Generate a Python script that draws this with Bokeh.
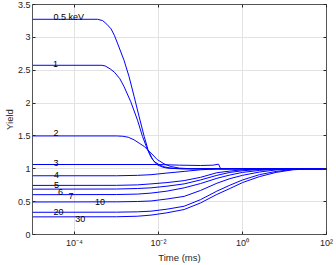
import numpy as np
from bokeh.plotting import figure
from bokeh.models import (LogAxis, LinearAxis, CustomJSTickFormatter, FixedTicker,
                          Range1d, ColumnDataSource)
from bokeh.embed import file_html
from bokeh.resources import INLINE
from bokeh.core.properties import value

# ---- data (log10 of time in ms, yield) ----
lt_05 = [-5, -3.45, -3.33, -3.23, -3.13, -3.05, -2.97, -2.82, -2.70, -2.58, -2.46, -2.34, -2.25, -2.14, -2.03, -1.9, -1.79, -1.5, 2]
y_05 = [3.275, 3.275, 3.255, 3.20, 3.13, 3.03, 2.90, 2.65, 2.40, 2.10, 1.79, 1.49, 1.29, 1.14, 1.06, 1.025, 1.01, 1.0, 1.0]

lt_1 = [-5, -3.35, -3.27, -3.15, -3.05, -2.92, -2.82, -2.66, -2.50, -2.38, -2.26, -2.18, -2.10, -1.98, -1.87, -1.7, -1.4, 2]
y_1 = [2.575, 2.575, 2.565, 2.52, 2.47, 2.37, 2.25, 2.02, 1.74, 1.49, 1.29, 1.18, 1.11, 1.06, 1.03, 1.01, 1.0, 1.0]

lt_2 = [-5, -3.0, -2.85, -2.72, -2.58, -2.46, -2.34, -2.18, -2.03, -1.87, -1.71, -1.5, -1.2, 2]
y_2 = [1.5, 1.5, 1.495, 1.48, 1.44, 1.39, 1.34, 1.24, 1.14, 1.076, 1.035, 1.01, 1.0, 1.0]

lt_3 = [-5, -2.0, -1.5, -1.0, -0.7, -0.57, -0.52, 2]
y_3 = [1.065, 1.065, 1.055, 1.05, 1.055, 1.07, 1.0, 1.0]

lt_4 = [-5, -3, -2.5, -2.18, -1.8, -1.39, -1.0, -0.6, 0, 2]
y_4 = [0.894, 0.894, 0.9, 0.91, 0.935, 0.96, 0.985, 0.997, 1.0, 1.0]

lt_5 = [-5, -3, -2.5, -2.18, -1.8, -1.39, -1.0, -0.61, -0.3, 0, 0.4, 1, 2]
y_5 = [0.747, 0.748, 0.755, 0.77, 0.79, 0.82, 0.87, 0.94, 0.965, 0.985, 0.997, 1.0, 1.0]

lt_6 = [-5, -3, -2.5, -2.18, -1.8, -1.39, -1.0, -0.61, -0.3, 0, 0.4, 0.9, 2]
y_6 = [0.69, 0.692, 0.70, 0.71, 0.735, 0.77, 0.83, 0.90, 0.945, 0.97, 0.99, 0.999, 1.0]

lt_7 = [-5, -3, -2.5, -2.18, -1.8, -1.39, -1.0, -0.61, -0.3, 0, 0.4, 0.8, 1.2, 2]
y_7 = [0.606, 0.608, 0.615, 0.63, 0.66, 0.71, 0.775, 0.855, 0.905, 0.945, 0.975, 0.993, 1.0, 1.0]

lt_10 = [-5, -3, -2.5, -2.18, -1.8, -1.39, -1.0, -0.61, -0.3, 0, 0.4, 0.8, 1.2, 1.6, 2]
y_10 = [0.495, 0.497, 0.502, 0.51, 0.54, 0.58, 0.67, 0.78, 0.85, 0.90, 0.95, 0.983, 0.997, 1.0, 1.0]

lt_20 = [-5, -3, -2.5, -2.18, -1.8, -1.39, -1.0, -0.61, -0.3, 0, 0.4, 0.8, 1.2, 1.6, 2]
y_20 = [0.338, 0.34, 0.345, 0.355, 0.385, 0.43, 0.53, 0.66, 0.75, 0.83, 0.91, 0.96, 0.99, 1.0, 1.0]

lt_30 = [-5, -3, -2.5, -2.18, -1.8, -1.39, -1.0, -0.61, -0.3, 0, 0.4, 0.8, 1.2, 1.6, 2]
y_30 = [0.268, 0.27, 0.278, 0.295, 0.33, 0.38, 0.48, 0.61, 0.70, 0.79, 0.88, 0.945, 0.985, 0.998, 1.0]

curves = [(lt_05, y_05), (lt_1, y_1), (lt_2, y_2), (lt_3, y_3), (lt_4, y_4), (lt_5, y_5),
          (lt_6, y_6), (lt_7, y_7), (lt_10, y_10), (lt_20, y_20), (lt_30, y_30)]

labels = ["0.5 keV", "1", "2", "3", "4", "5", "6", "7", "10", "20", "30"]
label_lt = [-4.50, -4.51, -4.50, -4.50, -4.49, -4.49, -4.39, -4.14, -3.51, -4.50, -3.98]
label_y = [3.31, 2.60, 1.545, 1.095, 0.898, 0.753, 0.641, 0.58, 0.489, 0.338, 0.242]

x_ticks = [1e-4, 1e-2, 1e0, 1e2]
y_ticks = [0, 0.5, 1, 1.5, 2, 2.5, 3, 3.5]

FONT = "Liberation Sans"
AX = "#262626"

p = figure(width=336, height=265, x_axis_type="log",
           x_range=Range1d(1e-5, 1e2), y_range=Range1d(0, 3.5),
           output_backend="svg", toolbar_location=None, min_border=0,
           min_border_left=31, min_border_right=10, min_border_top=4, min_border_bottom=30,
           x_axis_label="Time (ms)", y_axis_label="Yield")
p.outline_line_color = "#555555"
p.background_fill_color = "white"

for lt, yy in curves:
    p.line([10 ** v for v in lt], yy, line_color="#0000ff", line_width=1)

src = ColumnDataSource(dict(x=[10 ** v for v in label_lt], y=label_y, t=labels))
p.text(x="x", y="y", text="t", source=src, text_font=value(FONT),
       text_font_size="9px", text_color="#000000",
       text_align="left", text_baseline="alphabetic")

sup_js = """
const m = {'-':'\u207b','0':'\u2070','1':'\u00b9','2':'\u00b2','3':'\u00b3','4':'\u2074',
           '5':'\u2075','6':'\u2076','7':'\u2077','8':'\u2078','9':'\u2079'};
const e = Math.round(Math.log10(tick));
return '10' + String(e).split('').map(c => m[c]).join('');
"""

xa = p.xaxis[0]
xa.ticker = FixedTicker(ticks=x_ticks)
xa.formatter = CustomJSTickFormatter(code=sup_js)
ya = p.yaxis[0]
ya.ticker = FixedTicker(ticks=y_ticks)
ya.formatter = CustomJSTickFormatter(code="return String(tick);")

for ax in (xa, ya):
    ax.major_tick_in = 3
    ax.major_tick_out = 0
    ax.minor_tick_line_color = None
    ax.axis_line_color = None
    ax.major_tick_line_color = AX
    ax.major_label_text_font = FONT
    ax.major_label_text_font_size = "9px"
    ax.major_label_text_color = AX
    ax.axis_label_text_font = FONT
    ax.axis_label_text_font_size = "9.5px"
    ax.axis_label_text_font_style = "normal"
    ax.axis_label_text_color = AX
ya.major_label_standoff = 2
ya.axis_label_standoff = 0
xa.major_label_standoff = 3
xa.axis_label_standoff = 1

blank = CustomJSTickFormatter(code="return ' ';")
top = LogAxis(ticker=FixedTicker(ticks=x_ticks), formatter=blank,
              major_label_text_font_size="1px",
              major_tick_in=3, major_tick_out=0, minor_tick_line_color=None,
              axis_line_color=None, major_tick_line_color=AX, major_label_standoff=0)
right = LinearAxis(ticker=FixedTicker(ticks=y_ticks), formatter=blank,
                   major_label_text_font_size="1px",
                   major_tick_in=3, major_tick_out=0, minor_tick_line_color=None,
                   axis_line_color=None, major_tick_line_color=AX, major_label_standoff=0)
p.add_layout(top, "above")
p.add_layout(right, "right")

p.xgrid.ticker = FixedTicker(ticks=x_ticks)
p.ygrid.ticker = FixedTicker(ticks=y_ticks)
p.xgrid.grid_line_color = "#e3e3e3"
p.ygrid.grid_line_color = "#e3e3e3"

open("out.html", "w").write(file_html(p, INLINE))
